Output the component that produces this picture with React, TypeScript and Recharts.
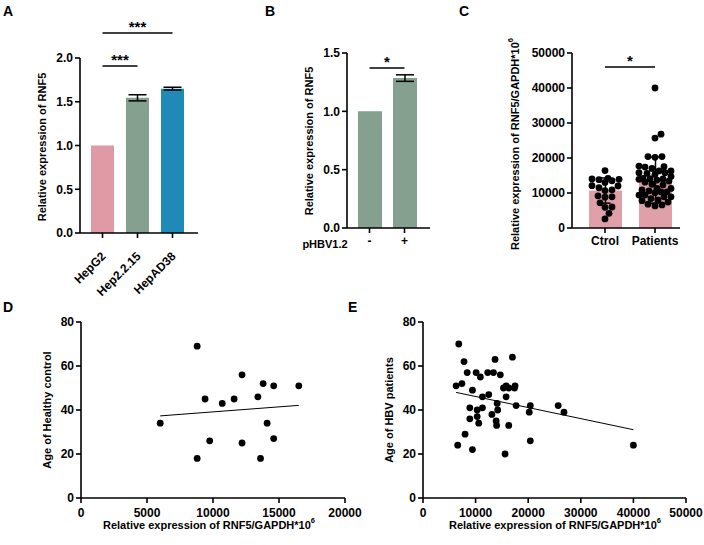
import React from 'react';
import {
  BarChart,
  Bar,
  Cell,
  ErrorBar,
  XAxis,
  YAxis,
  ReferenceLine,
  ComposedChart,
  Scatter,
  ScatterChart,
} from 'recharts';

const FONT = '"Liberation Sans", Arial, Helvetica, sans-serif';

// A: RNF5 in hepatoma cell lines
const cellLines = ['HepG2', 'Hep2.2.15', 'HepAD38'];
const cellMeans = [1.0, 1.545, 1.65];
const cellErr = [0, 0.035, 0.016];
const cellColors = ['#e09aa6', '#85a08f', '#1f8ab8'];
const aTicks = [0, 0.5, 1.0, 1.5, 2.0];

// B: pHBV1.2 transfection
const plasmid = ['-', '+'];
const plasmidMeans = [1.0, 1.285];
const plasmidErr = [0, 0.028];
const bTicks = [0, 0.5, 1.0, 1.5];

// C: serum / tissue levels
const groups = ['Ctrol', 'Patients'];
const groupMeans = [10700, 13700];
const groupSd = [3600, 6600];
const ctrolExpr = [
  16400, 14200, 14000, 13900, 13500, 13800, 12100, 12000, 11500, 10900,
  10700, 9200, 8800, 8900, 7200, 6000, 5900, 4200, 2600, 13000,
];
const cTicks = [0, 10000, 20000, 30000, 40000, 50000];

// D: healthy controls, expression vs age
const healthyExpr = [
  8800, 6000, 9400, 10700, 11600, 12200, 13400, 13800, 14600, 16500, 14100, 9750, 12200, 14600,
  8800, 13600,
];
const healthyAge = [69, 34, 45, 43, 45, 56, 46, 52, 51, 51, 34, 26, 25, 27, 18, 18];
const dXTicks = [0, 5000, 10000, 15000, 20000];

// E: HBV patients, expression vs age
const hbvExpr = [
  6800, 7800, 8400, 10100, 10900, 12300, 13400, 13700, 14700, 17000, 6300, 7400, 9400, 11300,
  12500, 15300, 15800, 16300, 17500, 17400, 15800, 8900, 10300, 11300, 14100, 14200, 13100, 10300,
  8900, 10600, 13900, 14000, 16300, 17700, 20400, 20200, 20400, 25700, 26800, 40000, 6600, 8000,
  9400, 15600,
];
const hbvAge = [
  70, 62, 57, 57, 55, 57, 57, 63, 56, 64, 51, 52, 49, 46, 47, 50, 51, 50, 51, 50, 46, 41, 40, 41,
  43, 40, 38, 37, 36, 34, 35, 33, 33, 42, 42, 39, 26, 42, 39, 24, 24, 29, 22, 20,
];
const eXTicks = [0, 10000, 20000, 30000, 40000, 50000];
const ageTicks = [0, 20, 40, 60, 80];

const tickStyle = { fill: '#000', fontSize: 12, fontWeight: 700, fontFamily: FONT };
const line = { stroke: '#000', strokeWidth: 1.6 };

// least squares fit, drawn over the data's x range
function fitSegment(xs: number[], ys: number[]) {
  const n = xs.length;
  const mx = xs.reduce((s, v) => s + v, 0) / n;
  const my = ys.reduce((s, v) => s + v, 0) / n;
  let sxy = 0;
  let sxx = 0;
  xs.forEach((x, i) => {
    sxy += (x - mx) * (ys[i] - my);
    sxx += (x - mx) * (x - mx);
  });
  const b = sxy / sxx;
  const a = my - b * mx;
  const lo = Math.min(...xs);
  const hi = Math.max(...xs);
  return [
    { x: lo, y: a + b * lo },
    { x: hi, y: a + b * hi },
  ];
}

// simple beeswarm so dots in C don't sit on top of each other
function swarm(values: number[], center: number, pxPerVal: number, pxPerPos: number) {
  const d = 6.4;
  const maxOff = 16;
  const placed: { x: number; y: number }[] = [];
  const out: { pos: number; val: number }[] = [];
  [...values]
    .sort((a, b) => a - b)
    .forEach((v) => {
      const y = v * pxPerVal;
      let best = 0;
      let bestGap = -1;
      for (let k = 0; k <= 2 * maxOff; k++) {
        const cand = k === 0 ? 0 : (k % 2 ? 1 : -1) * Math.ceil(k / 2);
        const gap = placed.reduce((m, p) => Math.min(m, Math.hypot(p.x - cand, p.y - y)), Infinity);
        if (gap >= d) {
          best = cand;
          bestGap = gap;
          break;
        }
        if (gap > bestGap) {
          bestGap = gap;
          best = cand;
        }
      }
      placed.push({ x: best, y });
      out.push({ pos: center + best / pxPerPos, val: v });
    });
  return out;
}

const yTitle = (text: string, x: number, cy: number, sup?: string) => ({
  content: () => (
    <text
      transform={`translate(${x},${cy}) rotate(-90)`}
      textAnchor="middle"
      dominantBaseline="central"
      fill="#000"
      fontSize={11}
      fontWeight={700}
      fontFamily={FONT}
    >
      {text}
      {sup && (
        <tspan dy={-5} fontSize={7.5}>
          {sup}
        </tspan>
      )}
    </text>
  ),
});

const xTitle = (text: string, cx: number, y: number, sup?: string) => ({
  content: () => (
    <text
      x={cx}
      y={y}
      textAnchor="middle"
      dominantBaseline="central"
      fill="#000"
      fontSize={11}
      fontWeight={700}
      fontFamily={FONT}
    >
      {text}
      {sup && (
        <tspan dy={-5} fontSize={7.5}>
          {sup}
        </tspan>
      )}
    </text>
  ),
});

const sigLabel = (v: string) => ({
  value: v,
  position: 'top' as const,
  offset: 1,
  fill: '#000',
  fontSize: 15,
  fontWeight: 700,
  fontFamily: FONT,
});

const SlantTick = (props: any) => {
  const { x, y, payload } = props;
  const ax = x + 4;
  const ay = y + 17;
  return (
    <text
      x={ax}
      y={ay}
      transform={`rotate(-45 ${ax} ${ay})`}
      textAnchor="end"
      {...tickStyle}
    >
      {payload.value}
    </text>
  );
};

const Dot = (props: any) => <circle cx={props.cx} cy={props.cy} r={3.4} fill="#000" />;

const letter = (t: string, left: number, top: number) => (
  <div
    style={{
      position: 'absolute',
      left,
      top,
      fontSize: 14,
      fontWeight: 700,
      fontFamily: FONT,
      lineHeight: '14px',
    }}
  >
    {t}
  </div>
);

export default function App() {
  const aData = cellLines.map((name, i) => ({ name, mean: cellMeans[i], err: cellErr[i] }));
  const bData = plasmid.map((name, i) => ({ name, mean: plasmidMeans[i], err: plasmidErr[i] }));
  const cData = groups.map((name, i) => ({ name, mean: groupMeans[i], sd: groupSd[i] }));
  const cDots = [
    ...swarm(ctrolExpr, 1, 175 / 50000, 50),
    ...swarm(hbvExpr, 2, 175 / 50000, 50),
  ];
  const dData = healthyExpr.map((x, i) => ({ x, y: healthyAge[i] }));
  const eData = hbvExpr.map((x, i) => ({ x, y: hbvAge[i] }));
  const dFit = fitSegment(healthyExpr, healthyAge);
  const eFit = fitSegment(hbvExpr, hbvAge);

  return (
    <div
      style={{
        position: 'absolute',
        left: 0,
        top: 0,
        width: 704,
        height: 545,
        background: '#fff',
        fontFamily: FONT,
      }}
    >
      {letter('A', 3, 4)}
      {letter('B', 265, 4)}
      {letter('C', 459, 4)}
      {letter('D', 3, 300)}
      {letter('E', 348, 300)}

      {/* A */}
      <div style={{ position: 'absolute', left: 0, top: 0 }}>
        <BarChart width={215} height={300} data={aData} margin={{ top: 58, right: 17, left: 0, bottom: 0 }}>
          <XAxis
            dataKey="name"
            height={67}
            padding={{ left: 5, right: 8 }}
            axisLine={line}
            tickLine={line}
            tickSize={5}
            interval={0}
            tick={<SlantTick />}
          />
          <YAxis
            width={80}
            domain={[0, 2]}
            ticks={aTicks}
            tickFormatter={(v) => Number(v).toFixed(1)}
            axisLine={line}
            tickLine={line}
            tickSize={5}
            tickMargin={2}
            tick={tickStyle}
            label={yTitle('Relative expression of RNF5', 42, 147)}
          />
          <Bar dataKey="mean" barSize={23} isAnimationActive={false}>
            {aData.map((d, i) => (
              <Cell key={d.name} fill={cellColors[i]} />
            ))}
            <ErrorBar dataKey="err" width={9} stroke="#000" strokeWidth={1.5} />
          </Bar>
          <ReferenceLine
            segment={[
              { x: 'HepG2', y: 1.909 },
              { x: 'Hep2.2.15', y: 1.909 },
            ]}
            stroke="#000"
            strokeWidth={1.6}
            ifOverflow="visible"
            label={sigLabel('***')}
          />
          <ReferenceLine
            segment={[
              { x: 'HepG2', y: 2.286 },
              { x: 'HepAD38', y: 2.286 },
            ]}
            stroke="#000"
            strokeWidth={1.6}
            ifOverflow="visible"
            label={sigLabel('***')}
          />
        </BarChart>
      </div>

      {/* B */}
      <div style={{ position: 'absolute', left: 270, top: 0 }}>
        <BarChart width={170} height={270} data={bData} margin={{ top: 53, right: 10, left: 0, bottom: 0 }}>
          <XAxis
            dataKey="name"
            height={42}
            padding={{ left: 5, right: 8 }}
            axisLine={line}
            tickLine={line}
            tickSize={5}
            tickMargin={3}
            tick={tickStyle}
            label={xTitle('pHBV1.2', 55, 244)}
          />
          <YAxis
            width={77}
            domain={[0, 1.5]}
            ticks={bTicks}
            tickFormatter={(v) => Number(v).toFixed(1)}
            axisLine={line}
            tickLine={line}
            tickSize={5}
            tickMargin={2}
            tick={tickStyle}
            label={yTitle('Relative expression of RNF5', 39, 141)}
          />
          <Bar dataKey="mean" barSize={24} fill="#85a08f" isAnimationActive={false}>
            <ErrorBar dataKey="err" width={9} stroke="#000" strokeWidth={1.5} />
          </Bar>
          <ReferenceLine
            segment={[
              { x: '-', y: 1.371 },
              { x: '+', y: 1.371 },
            ]}
            stroke="#000"
            strokeWidth={1.6}
            ifOverflow="visible"
            label={sigLabel('*')}
          />
        </BarChart>
      </div>

      {/* C */}
      <div style={{ position: 'absolute', left: 500, top: 0 }}>
        <ComposedChart width={190} height={270} data={cData} margin={{ top: 53, right: 10, left: 0, bottom: 0 }}>
          <XAxis
            xAxisId="cat"
            dataKey="name"
            height={42}
            padding={{ left: 8, right: 0 }}
            axisLine={line}
            tickLine={line}
            tickSize={5}
            tickMargin={3}
            tick={tickStyle}
          />
          <XAxis xAxisId="err" dataKey="name" padding={{ left: 8, right: 0 }} hide />
          <XAxis
            xAxisId="num"
            dataKey="pos"
            type="number"
            domain={[0.34, 2.5]}
            allowDataOverflow
            hide
          />
          <YAxis
            width={72}
            domain={[0, 50000]}
            ticks={cTicks}
            axisLine={line}
            tickLine={line}
            tickSize={5}
            tickMargin={2}
            tick={tickStyle}
            label={yTitle('Relative expression of RNF5/GAPDH*10', 15, 144, '6')}
          />
          <Bar xAxisId="cat" dataKey="mean" barSize={33} fill="#e0a0aa" isAnimationActive={false} />
          <Scatter xAxisId="num" data={cDots} dataKey="val" shape={<Dot />} isAnimationActive={false} />
          {/* mean ± SD drawn over the dots */}
          <Bar xAxisId="err" dataKey="mean" barSize={33} fill="none" isAnimationActive={false}>
            <ErrorBar dataKey="sd" width={5} stroke="#000" strokeWidth={1.5} />
          </Bar>
          <ReferenceLine
            xAxisId="cat"
            segment={[
              { x: 'Ctrol', y: 46000 },
              { x: 'Patients', y: 46000 },
            ]}
            stroke="#000"
            strokeWidth={1.6}
            ifOverflow="visible"
            label={sigLabel('*')}
          />
        </ComposedChart>
      </div>

      {/* D */}
      <div style={{ position: 'absolute', left: 0, top: 300 }}>
        <ScatterChart width={368} height={245} margin={{ top: 22, right: 23, left: 0, bottom: 0 }}>
          <XAxis
            dataKey="x"
            type="number"
            domain={[0, 20000]}
            ticks={dXTicks}
            height={47}
            axisLine={line}
            tickLine={line}
            tickSize={5}
            tickMargin={5}
            tick={tickStyle}
            label={xTitle('Relative expression of RNF5/GAPDH*10', 209, 225, '6')}
          />
          <YAxis
            dataKey="y"
            type="number"
            domain={[0, 80]}
            ticks={ageTicks}
            width={81}
            axisLine={line}
            tickLine={line}
            tickSize={5}
            tickMargin={2}
            tick={tickStyle}
            label={yTitle('Age of Healthy control', 47, 110)}
          />
          <Scatter data={dData} shape={<Dot />} isAnimationActive={false} />
          <ReferenceLine segment={dFit} stroke="#000" strokeWidth={1} ifOverflow="visible" />
        </ScatterChart>
      </div>

      {/* E */}
      <div style={{ position: 'absolute', left: 360, top: 300 }}>
        <ScatterChart width={344} height={245} margin={{ top: 22, right: 18, left: 0, bottom: 0 }}>
          <XAxis
            dataKey="x"
            type="number"
            domain={[0, 50000]}
            ticks={eXTicks}
            height={47}
            axisLine={line}
            tickLine={line}
            tickSize={5}
            tickMargin={5}
            tick={tickStyle}
            label={xTitle('Relative expression of RNF5/GAPDH*10', 195, 225, '6')}
          />
          <YAxis
            dataKey="y"
            type="number"
            domain={[0, 80]}
            ticks={ageTicks}
            width={63}
            axisLine={line}
            tickLine={line}
            tickSize={5}
            tickMargin={2}
            tick={tickStyle}
            label={yTitle('Age of HBV patients', 29, 110)}
          />
          <Scatter data={eData} shape={<Dot />} isAnimationActive={false} />
          <ReferenceLine segment={eFit} stroke="#000" strokeWidth={1} ifOverflow="visible" />
        </ScatterChart>
      </div>
    </div>
  );
}
